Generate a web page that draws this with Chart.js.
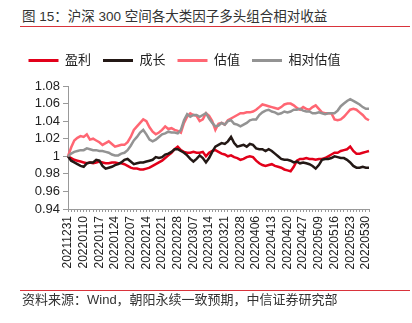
<!DOCTYPE html>
<html>
<head>
<meta charset="utf-8">
<script src="https://cdn.jsdelivr.net/npm/chart.js@4/dist/chart.umd.min.js"></script>
<style>
  html, body { margin: 0; padding: 0; background: #fff; }
  #wrap { position: relative; width: 412px; height: 323px; overflow: hidden; font-family: 'Liberation Sans', 'Noto Sans CJK SC', sans-serif; }
  #c { position: absolute; left: 0; top: 0; }
  .title { position: absolute; left: 22px; top: 8px; font-size: 13.5px; line-height: 17px; color: #333; white-space: nowrap; }
  .rule { position: absolute; left: 20px; width: 390px; height: 1px; background: #d9333b; }
  .src { position: absolute; left: 22px; top: 292px; font-size: 13px; line-height: 16px; color: #333; white-space: nowrap; }
</style>
</head>
<body>
<div id="wrap">
  <div class="title">图 15：沪深 300 空间各大类因子多头组合相对收益</div>
  <div class="rule" style="top:26px"></div>
  <canvas id="c" width="412" height="323"></canvas>
  <div class="rule" style="top:290px"></div>
  <div class="src">资料来源：Wind，朝阳永续一致预期，中信证券研究部</div>
</div>
<script>
const dates = [
  '20211231','20220104','20220105','20220106','20220107','20220110','20220111','20220112','20220113','20220114',
  '20220117','20220118','20220119','20220120','20220121','20220124','20220125','20220126','20220127','20220128',
  '20220207','20220208','20220209','20220210','20220211','20220214','20220215','20220216','20220217','20220218',
  '20220221','20220222','20220223','20220224','20220225','20220228','20220301','20220302','20220303','20220304',
  '20220307','20220308','20220309','20220310','20220311','20220314','20220315','20220316','20220317','20220318',
  '20220321','20220322','20220323','20220324','20220325','20220328','20220329','20220330','20220331','20220401',
  '20220406','20220407','20220408','20220411','20220412','20220413','20220414','20220415','20220418','20220419',
  '20220420','20220421','20220422','20220425','20220426','20220427','20220428','20220429','20220505','20220506',
  '20220509','20220510','20220511','20220512','20220513','20220516','20220517','20220518','20220519','20220520',
  '20220523','20220524','20220525','20220526','20220527','20220530','20220531'
];
const seriesNames = ['盈利', '成长', '估值', '相对估值'];
const profit = [
  1.000,0.998,0.996,0.995,0.994,0.993,0.992,0.993,0.992,0.993,
  0.994,0.993,0.992,0.992,0.993,0.993,0.992,0.992,0.991,0.989,
  0.987,0.986,0.986,0.985,0.985,0.986,0.987,0.989,0.991,0.993,
  0.995,0.998,1.001,1.004,1.008,1.011,1.007,1.005,1.004,1.004,
  1.005,1.004,1.004,1.005,1.000,1.004,1.006,1.007,1.005,1.003,
  1.002,1.000,1.001,0.999,0.998,0.996,0.997,0.999,1.000,0.999,
  0.995,0.992,0.990,0.989,0.990,0.991,0.989,0.988,0.987,0.985,
  0.984,0.983,0.988,0.995,0.997,0.997,0.998,0.997,0.997,0.996,
  0.997,0.997,0.998,1.000,1.002,1.004,1.004,1.006,1.007,1.008,
  1.011,1.006,1.003,1.003,1.004,1.005,1.006
];
const growth = [
  1.000,0.995,0.993,0.991,0.989,0.988,0.992,0.993,0.993,0.996,
  0.995,0.989,0.986,0.987,0.988,0.990,0.991,0.993,0.996,0.997,
  0.994,0.991,0.992,0.993,0.993,0.994,0.995,0.996,0.999,0.998,
  0.999,1.002,1.003,1.005,1.008,1.008,1.006,1.004,1.001,0.997,
  0.994,0.997,1.001,0.998,0.993,0.998,1.005,1.011,1.013,1.015,
  1.014,1.017,1.022,1.015,1.011,1.012,1.013,1.011,1.014,1.013,
  1.009,1.008,1.008,1.006,1.008,1.006,1.003,1.000,0.997,0.996,
  0.996,0.995,0.993,0.994,0.992,0.993,0.992,0.991,0.989,0.986,
  0.990,0.996,0.997,0.997,0.998,1.000,0.999,0.998,0.998,0.996,
  0.993,0.989,0.987,0.987,0.988,0.987,0.987
];
const value = [
  1.000,1.010,1.018,1.021,1.023,1.022,1.025,1.019,1.020,1.018,
  1.016,1.013,1.015,1.017,1.014,1.011,1.012,1.013,1.013,1.016,
  1.022,1.030,1.034,1.038,1.042,1.040,1.033,1.028,1.025,1.027,
  1.030,1.034,1.031,1.032,1.030,1.029,1.027,1.038,1.045,1.049,
  1.047,1.046,1.040,1.042,1.049,1.046,1.040,1.030,1.037,1.038,
  1.036,1.041,1.043,1.045,1.047,1.049,1.049,1.050,1.050,1.051,
  1.053,1.056,1.059,1.058,1.057,1.056,1.055,1.054,1.056,1.059,
  1.060,1.060,1.058,1.055,1.053,1.056,1.054,1.053,1.056,1.058,
  1.054,1.050,1.049,1.049,1.049,1.042,1.041,1.042,1.045,1.049,
  1.053,1.054,1.053,1.050,1.047,1.043,1.041
];
const relValue = [
  1.000,1.003,1.005,1.006,1.007,1.007,1.009,1.008,1.007,1.007,
  1.006,1.006,1.005,1.004,1.002,1.001,1.001,1.003,1.004,1.007,
  1.012,1.018,1.022,1.027,1.030,1.025,1.019,1.017,1.019,1.022,
  1.025,1.026,1.028,1.027,1.027,1.026,1.030,1.041,1.048,1.045,
  1.047,1.047,1.045,1.047,1.049,1.043,1.038,1.034,1.035,1.038,
  1.036,1.040,1.041,1.037,1.036,1.034,1.036,1.038,1.041,1.042,
  1.042,1.047,1.050,1.052,1.053,1.051,1.050,1.048,1.049,1.051,
  1.050,1.051,1.053,1.053,1.054,1.052,1.051,1.051,1.049,1.049,
  1.050,1.049,1.048,1.049,1.049,1.049,1.052,1.057,1.060,1.063,
  1.065,1.063,1.061,1.059,1.056,1.054,1.054
];
const yTicks = [0.94, 0.96, 0.98, 1, 1.02, 1.04, 1.06, 1.08];
const colors = ['#e2001a', '#231815', '#ff6673', '#939393'];

Chart.defaults.font.family = "'Liberation Sans', 'Noto Sans CJK SC', sans-serif";
Chart.defaults.color = '#222';

const allSeries = [profit, growth, value, relValue];
const drawOrder = [3, 2, 1, 0];

const legendHeight = {
  id: 'legendHeight',
  beforeInit(chart) {
    const orig = chart.legend.fit;
    chart.legend.fit = function () {
      orig.call(this);
      this.height = 44;
    };
  }
};

new Chart(document.getElementById('c'), {
  type: 'line',
  data: {
    labels: dates,
    datasets: allSeries.map((d, k) => ({
      label: seriesNames[k],
      data: d,
      borderColor: colors[k],
      backgroundColor: colors[k],
      borderWidth: 2.5,
      pointRadius: 0,
      tension: 0,
      fill: false,
      order: drawOrder[k]
    }))
  },
  options: {
    responsive: false,
    animation: false,
    layout: { padding: { top: 42, left: 0, right: 43, bottom: 44 } },
    plugins: {
      title: { display: false },
      tooltip: { enabled: false },
      legend: {
        display: true,
        position: 'top',
        labels: {
          boxWidth: 30,
          boxHeight: 3,
          padding: 12,
          font: { size: 13 },
          color: '#222',
          sort: (a, b) => a.datasetIndex - b.datasetIndex,
          generateLabels: (chart) => Chart.defaults.plugins.legend.labels.generateLabels(chart)
            .map(l => Object.assign(l, { lineWidth: 0, fillStyle: l.strokeStyle }))
        }
      }
    },
    scales: {
      x: {
        type: 'category',
        offset: false,
        grid: { display: true, drawOnChartArea: false, drawTicks: true, tickLength: 3, color: '#999' },
        border: { display: true, color: '#999', width: 1 },
        ticks: {
          autoSkip: false,
          maxRotation: 90,
          minRotation: 90,
          padding: 4,
          font: { size: 12 },
          color: '#222',
          callback: (val, idx) => (idx % 5 === 0 ? dates[idx] : '')
        },
        afterFit: (s) => { s.height = 70; }
      },
      y: {
        min: 0.94,
        max: 1.08,
        grid: { display: true, drawOnChartArea: false, drawTicks: true, tickLength: 5, color: '#999' },
        border: { display: true, color: '#999', width: 1 },
        afterBuildTicks: (s) => { s.ticks = yTicks.map(v => ({ value: v })); },
        ticks: {
          autoSkip: false,
          padding: 3,
          font: { size: 13 },
          color: '#222',
          callback: (v) => String(parseFloat(Number(v).toFixed(2)))
        },
        afterFit: (s) => { s.width = 68; }
      }
    }
  },
  plugins: [legendHeight]
});
</script>
</body>
</html>
